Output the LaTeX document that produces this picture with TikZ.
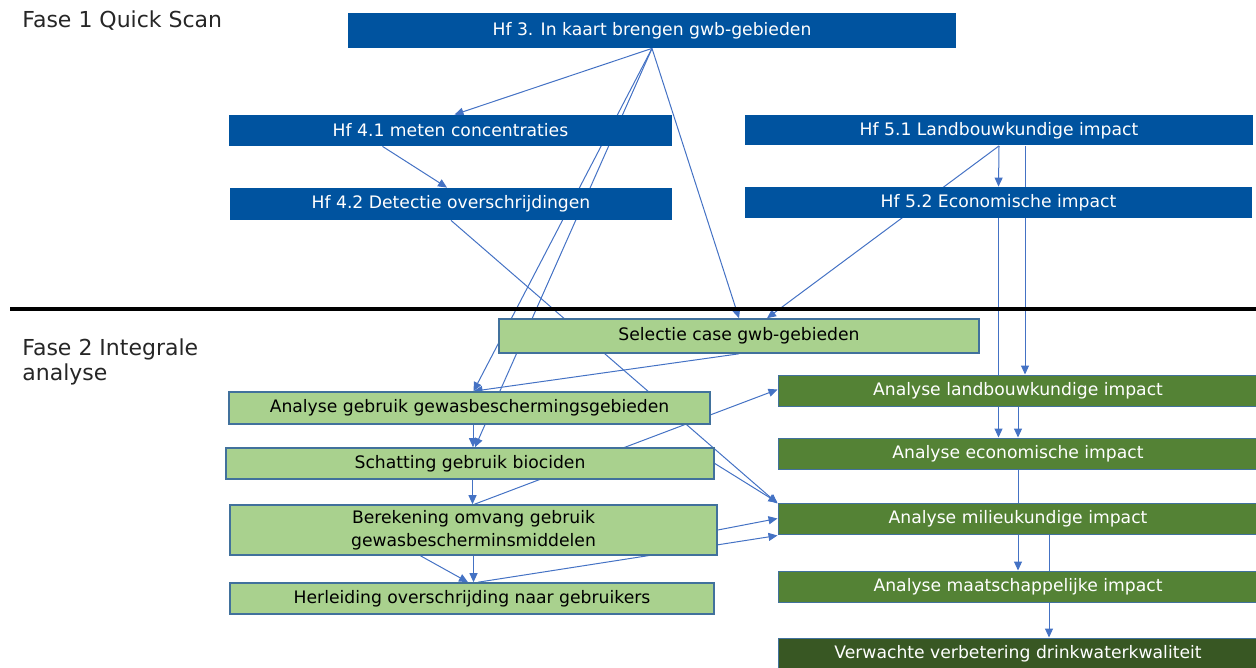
\documentclass[tikz,border=0pt]{standalone}
\usepackage{fontspec}
\setmainfont{DejaVu Sans}
\usetikzlibrary{arrows.meta,calc,backgrounds}
\definecolor{hfblue}{HTML}{00539F}
\definecolor{lightgr}{HTML}{A9D18E}
\definecolor{darkgr}{HTML}{548235}
\definecolor{deepgr}{HTML}{385723}
\definecolor{arrblue}{HTML}{4472C4}
\definecolor{rimblue}{HTML}{41719C}
\tikzset{
  fase/.style={anchor=north west, inner sep=0pt, align=left, text=black!85,
    font=\fontsize{11}{12.8}\selectfont},
  hfbox/.style={fill=hfblue, text=white, inner sep=0pt, minimum height=15.5pt,
    font=\fontsize{8.6}{10}\selectfont},
  caselt/.style={fill=lightgr, draw=rimblue, line width=0.8pt, inner sep=0pt,
    minimum height=15.5pt, align=center, font=\fontsize{8.6}{11.5}\selectfont},
  casedk/.style={fill=darkgr, draw=rimblue, line width=0.5pt, text=white, inner sep=0pt,
    minimum width=240pt, minimum height=15.5pt, font=\fontsize{8.6}{10}\selectfont},
  conn/.style={draw=arrblue, line width=0.5pt, -{Triangle[length=4.5pt,width=4pt]}}
}
\begin{document}
\begin{tikzpicture}[x=0.5pt,y=-0.5pt]
  \useasboundingbox (0,0) rectangle (1256,668);
  \clip (0,0) rectangle (1256,668);
  % fase labels
  \node[fase] (fase1) at (22,10) {Fase 1 Quick Scan};
  \node[fase] (fase2) at (22,338) {Fase 2 Integrale\\analyse};
  \draw[line width=2.2pt] (10,309) -- (1256,309);
  % fase 1
  \node[hfbox, minimum width=304pt, minimum height=17.5pt] (hf3) at (652,30.5) {Hf 3. In kaart brengen gwb-gebieden};
  \node[hfbox, minimum width=221.5pt] (hf41) at (450.5,130.5) {Hf 4.1 meten concentraties};
  \node[hfbox, minimum width=221pt, minimum height=16pt] (hf42) at (451,204) {Hf 4.2 Detectie overschrijdingen};
  \node[hfbox, minimum width=254pt, minimum height=15pt] (hf51) at (999,130.5) {Hf 5.1 Landbouwkundige impact};
  \node[hfbox, minimum width=253.5pt] (hf52) at (998.5,202.5) {Hf 5.2 Economische impact};
  % fase 2, links
  \node[caselt, minimum width=240pt, minimum height=17pt] (sel) at (739,336) {Selectie case gwb-gebieden};
  \node[caselt, minimum width=240.5pt, minimum height=16pt] (agg) at (469.5,408) {Analyse gebruik gewasbeschermingsgebieden};
  \node[caselt, minimum width=244pt] (sgb) at (470,463.5) {Schatting gebruik biociden};
  \node[caselt, minimum width=243.5pt, minimum height=25pt] (bom) at (473.5,530) {Berekening omvang gebruik\\gewasbescherminsmiddelen};
  \node[caselt, minimum width=242pt] (her) at (472,598.5) {Herleiding overschrijding naar gebruikers};
  % fase 2, rechts
  \node[casedk] (ali) at (1018,390.5) {Analyse landbouwkundige impact};
  \node[casedk] (aei) at (1018,453.5) {Analyse economische impact};
  \node[casedk] (ami) at (1018,518.5) {Analyse milieukundige impact};
  \node[casedk] (amm) at (1018,586.5) {Analyse maatschappelijke impact};
  \node[casedk, fill=deepgr] (vvd) at (1018,653.5) {Verwachte verbetering drinkwaterkwaliteit};
  % verbindingen
  \begin{scope}[on background layer]
    \draw[conn] (hf3.south) -- ($(hf41.north)+(4,0)$);
    \draw[conn] (hf3.south) -- ($(agg.north)+(4,0)$);
    \draw[conn] (hf3.south) -- ($(sgb.north)+(5,0)$);
    \draw[conn] (hf3.south) -- (sel.north);
    \draw[conn] ($(hf41.south)+(-68,0)$) -- ($(hf42.north)+(-4,0)$);
    \draw[conn] (hf42.south) -- ($(ami.west)+(0,-15)$);
    \draw[conn] (hf51.south) -- (hf52.north);
    \draw[conn] (hf51.south) -- ($(sel.north)+(28,0)$);
    \draw[conn] ($(hf51.south)+(26,0)$) -- ($(ali.north)+(7,0)$);
    \draw[conn] (hf52.south) -- (hf52.south |- aei.north);
    \draw[conn] (sel.south) -- ($(agg.north)+(4,0)$);
    \draw[conn] ($(agg.south)+(3.5,0)$) -- ($(sgb.north)+(3,0)$);
    \draw[conn] ($(sgb.south)+(2.5,0)$) -- ($(bom.north)+(-1,0)$);
    \draw[conn] ($(bom.north)+(1,0)$) -- ($(ali.west)+(0,-1)$);
    \draw[conn] (sgb.east) -- ($(ami.west)+(0,-16)$);
    \draw[conn] (bom.east) -- (ami.west);
    \draw[conn] ($(her.north)+(6,0)$) -- ($(ami.west)+(0,17)$);
    \draw[conn] ($(bom.south)+(-53,0)$) -- ($(her.north)+(-4,0)$);
    \draw[conn] (bom.south) -- ($(her.north)+(1.5,0)$);
    \draw[conn] (ali.south) -- (aei.north);
    \draw[conn] (aei.south) -- (amm.north);
    \draw[conn] ($(ami.south)+(31,0)$) -- ($(vvd.north)+(31,0)$);
  \end{scope}
\end{tikzpicture}
\end{document}
